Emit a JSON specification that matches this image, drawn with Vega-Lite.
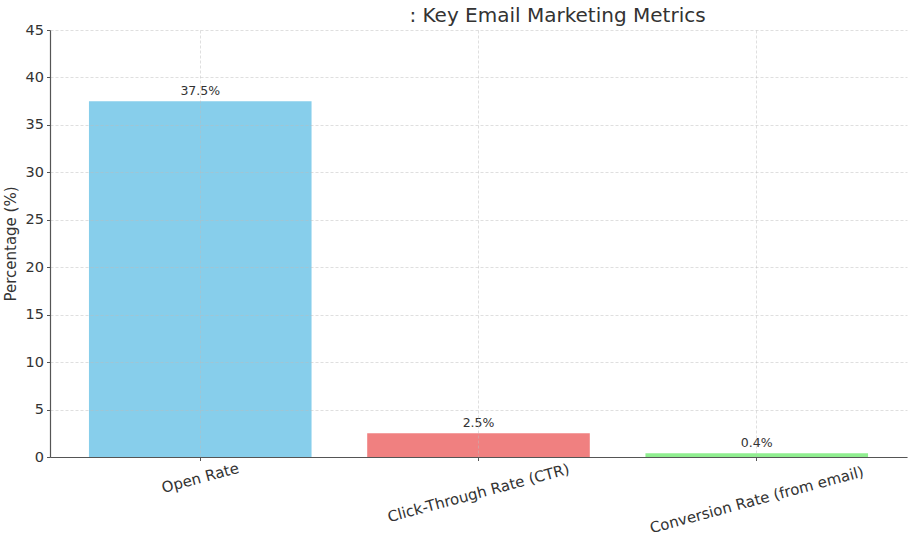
{
  "$schema": "https://vega.github.io/schema/vega-lite/v6.json",
  "width": 857,
  "height": 427,
  "autosize": {"type": "none"},
  "padding": {"left": 50, "top": 30, "right": 4, "bottom": 76},
  "background": "white",
  "title": {
    "text": ": Key Email Marketing Metrics",
    "anchor": "middle",
    "dx": 79,
    "offset": -4,
    "font": "DejaVu Sans",
    "fontSize": 20,
    "fontWeight": "normal",
    "color": "#333333"
  },
  "config": {
    "view": {"stroke": null},
    "font": "DejaVu Sans",
    "axis": {
      "domainColor": "#555555",
      "domainWidth": 1.2,
      "tickColor": "#555555",
      "tickSize": 3.5,
      "labelColor": "#333333",
      "titleColor": "#333333",
      "titleFontWeight": "normal",
      "gridColor": "#bbbbbb",
      "gridOpacity": 0.6,
      "gridDash": [3, 2],
      "gridWidth": 0.8
    }
  },
  "data": {
    "values": [
      {"metric": "Open Rate", "value": 37.5, "label": "37.5%"},
      {"metric": "Click-Through Rate (CTR)", "value": 2.5, "label": "2.5%"},
      {"metric": "Conversion Rate (from email)", "value": 0.4, "label": "0.4%"}
    ]
  },
  "encoding": {
    "x": {
      "field": "metric",
      "type": "nominal",
      "sort": null,
      "scale": {"paddingInner": 0.2, "paddingOuter": 0.14},
      "axis": {
        "title": null,
        "labels": false,
        "grid": true,
        "zindex": 1
      }
    },
    "y": {
      "field": "value",
      "type": "quantitative",
      "scale": {"domain": [0, 45], "nice": false},
      "axis": {
        "title": "Percentage (%)",
        "titleFontSize": 15,
        "titlePadding": 7,
        "labelFontSize": 14.5,
        "labelPadding": 3,
        "values": [0, 5, 10, 15, 20, 25, 30, 35, 40, 45],
        "grid": true,
        "zindex": 1
      }
    }
  },
  "layer": [
    {
      "mark": {"type": "bar"},
      "encoding": {
        "color": {
          "field": "metric",
          "type": "nominal",
          "sort": null,
          "scale": {"range": ["#87CEEB", "#F08080", "#90EE90"]},
          "legend": null
        }
      }
    },
    {
      "mark": {"type": "text", "baseline": "bottom", "dy": -3, "fontSize": 12.5, "color": "#333333"},
      "encoding": {"text": {"field": "label"}}
    },
    {
      "transform": [{"filter": "datum.metric === 'Open Rate'"}],
      "mark": {"type": "text", "angle": -15, "align": "center", "baseline": "middle", "dx": -5.4, "dy": 20.3, "fontSize": 15, "color": "#333333"},
      "encoding": {"y": {"datum": 0}, "text": {"field": "metric"}}
    },
    {
      "transform": [{"filter": "datum.metric === 'Click-Through Rate (CTR)'"}],
      "mark": {"type": "text", "angle": -15, "align": "center", "baseline": "middle", "dx": -9.3, "dy": 34.8, "fontSize": 15, "color": "#333333"},
      "encoding": {"y": {"datum": 0}, "text": {"field": "metric"}}
    },
    {
      "transform": [{"filter": "datum.metric === 'Conversion Rate (from email)'"}],
      "mark": {"type": "text", "angle": -15, "align": "center", "baseline": "middle", "dx": -11.1, "dy": 41.5, "fontSize": 15, "color": "#333333"},
      "encoding": {"y": {"datum": 0}, "text": {"field": "metric"}}
    }
  ]
}
